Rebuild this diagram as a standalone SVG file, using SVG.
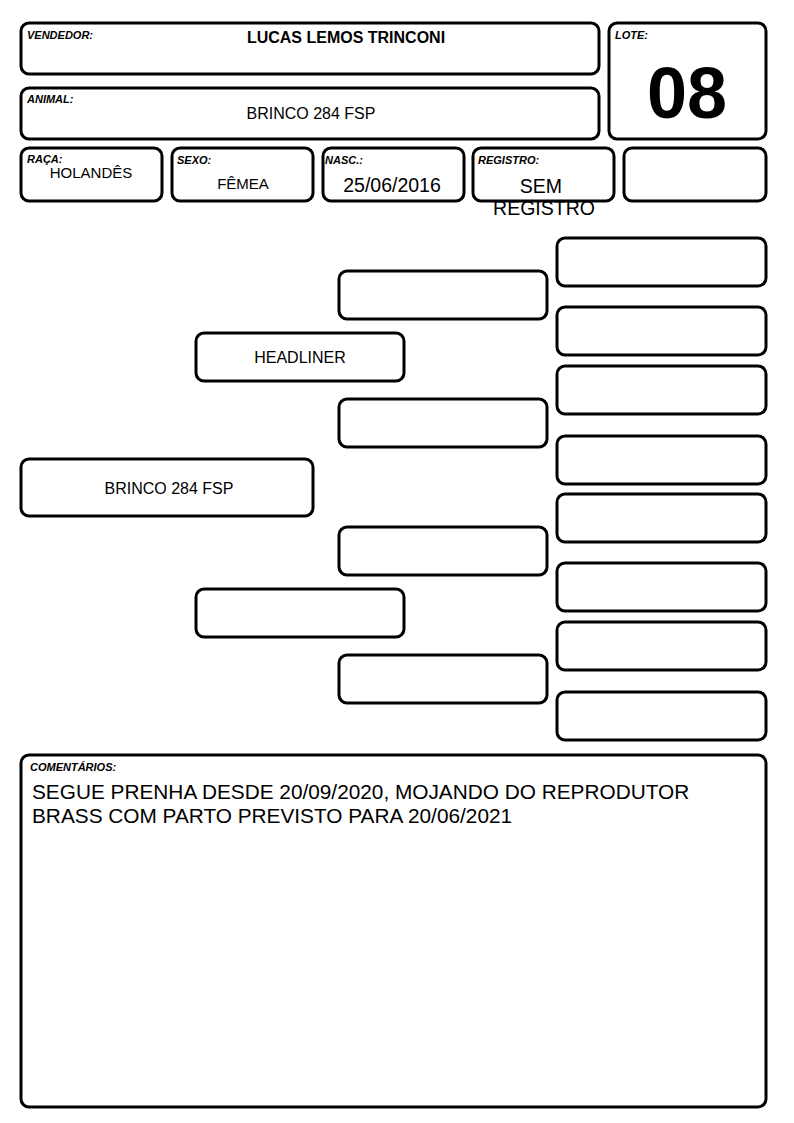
<svg xmlns="http://www.w3.org/2000/svg" width="794" height="1123" viewBox="0 0 794 1123">
<style>
.b{fill:#fff;stroke:#000;stroke-width:3}
.l{font-family:"Liberation Sans",Arial,sans-serif;font-size:11px;font-weight:bold;font-style:italic}
.t{font-family:"Liberation Sans",Arial,sans-serif;font-size:16px;text-anchor:middle}
.t15{font-family:"Liberation Sans",Arial,sans-serif;font-size:15px;text-anchor:middle}
.t19{font-family:"Liberation Sans",Arial,sans-serif;font-size:19.5px;text-anchor:middle}
.c{font-family:"Liberation Sans",Arial,sans-serif;font-size:20.8px}
</style>
<rect width="794" height="1123" fill="#fff"/>
<g id="vendedor"><rect class="b" x="21" y="23" width="578" height="51" rx="8"/><text class="l" x="27" y="39">VENDEDOR:</text><text class="t" x="346" y="43" font-weight="bold">LUCAS LEMOS TRINCONI</text></g>
<g id="animal"><rect class="b" x="21" y="88" width="578" height="51" rx="8"/><text class="l" x="27" y="103">ANIMAL:</text><text class="t" x="311" y="119">BRINCO 284 FSP</text></g>
<g id="lote"><rect class="b" x="609" y="23" width="157" height="116" rx="8"/><text class="l" x="615" y="39">LOTE:</text><text x="687" y="118" font-family="Liberation Sans,Arial,sans-serif" font-size="72" font-weight="bold" text-anchor="middle">08</text></g>
<g id="raca"><rect class="b" x="21" y="148" width="141" height="53" rx="8"/><text class="l" x="27" y="163">RAÇA:</text><text class="t15" x="91" y="178">HOLANDÊS</text></g>
<g id="sexo"><rect class="b" x="172" y="148" width="141" height="53" rx="8"/><text class="l" x="177" y="164">SEXO:</text><text class="t15" x="243" y="189">FÊMEA</text></g>
<g id="nasc"><rect class="b" x="323" y="148" width="141" height="53" rx="8"/><text class="l" x="325" y="164">NASC.:</text><text class="t19" x="392" y="192">25/06/2016</text></g>
<g id="registro"><rect class="b" x="473" y="148" width="141" height="53" rx="8"/><text class="l" x="478" y="164">REGISTRO:</text><text class="t19" x="541" y="193">SEM</text><text class="t19" x="544" y="215">REGISTRO</text></g>
<g id="extra"><rect class="b" x="624" y="148" width="142" height="53" rx="8"/></g>
<g id="animal-node"><rect class="b" x="21" y="459" width="292" height="57" rx="8"/><text class="t" x="169" y="494">BRINCO 284 FSP</text></g>
<g id="pai"><rect class="b" x="196" y="333" width="208" height="48" rx="8"/><text class="t" x="300" y="363">HEADLINER</text></g>
<g id="mae"><rect class="b" x="196" y="589" width="208" height="48" rx="8"/></g>
<g id="avo1"><rect class="b" x="339" y="271" width="208" height="48" rx="8"/></g>
<g id="avo2"><rect class="b" x="339" y="399" width="208" height="48" rx="8"/></g>
<g id="avo3"><rect class="b" x="339" y="527" width="208" height="48" rx="8"/></g>
<g id="avo4"><rect class="b" x="339" y="655" width="208" height="48" rx="8"/></g>
<g id="bisavo1"><rect class="b" x="557" y="238" width="209" height="48" rx="8"/></g>
<g id="bisavo2"><rect class="b" x="557" y="307" width="209" height="48" rx="8"/></g>
<g id="bisavo3"><rect class="b" x="557" y="366" width="209" height="48" rx="8"/></g>
<g id="bisavo4"><rect class="b" x="557" y="436" width="209" height="48" rx="8"/></g>
<g id="bisavo5"><rect class="b" x="557" y="494" width="209" height="48" rx="8"/></g>
<g id="bisavo6"><rect class="b" x="557" y="563" width="209" height="48" rx="8"/></g>
<g id="bisavo7"><rect class="b" x="557" y="622" width="209" height="48" rx="8"/></g>
<g id="bisavo8"><rect class="b" x="557" y="692" width="209" height="48" rx="8"/></g>
<g id="comentarios"><rect class="b" x="21" y="755" width="745" height="352" rx="8"/><text class="l" x="30" y="771">COMENTÁRIOS:</text><text class="c" x="32" y="799">SEGUE PRENHA DESDE 20/09/2020, MOJANDO DO REPRODUTOR</text><text class="c" x="32" y="823">BRASS COM PARTO PREVISTO PARA 20/06/2021</text></g>
<g id="connectors"/>
</svg>
